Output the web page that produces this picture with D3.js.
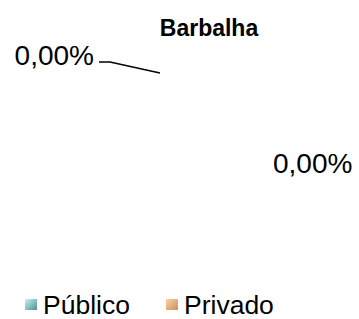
<!DOCTYPE html>
<html>
<head>
<meta charset="utf-8">
<script src="https://cdn.jsdelivr.net/npm/d3@7"></script>
<style>
  body { margin: 0; background: #fff; }
  svg { font-family: "Liberation Sans", Arial, sans-serif; }
</style>
</head>
<body>
<div class="container"></div>
<script>
// chart data
const categories = ["Público", "Privado"];
const values = [0, 0];
const title = "Barbalha";

const width = 359, height = 319;
const cx = 160, cy = 163, radius = 90;

const svg = d3.select(".container")
  .append("svg")
  .attr("width", width)
  .attr("height", height);

// gradients for the legend swatches
const defs = svg.append("defs");
const grads = [
  { id: "gPub", from: "#c8f4f4", to: "#4f8e92" },
  { id: "gPri", from: "#fbd2a4", to: "#c89060" }
];
grads.forEach(g => {
  const lg = defs.append("linearGradient")
    .attr("id", g.id)
    .attr("x1", "0").attr("y1", "0")
    .attr("x2", "1").attr("y2", "1");
  lg.append("stop").attr("offset", "0%").attr("stop-color", g.from);
  lg.append("stop").attr("offset", "100%").attr("stop-color", g.to);
});

svg.append("text")
  .attr("x", 209)
  .attr("y", 36)
  .attr("text-anchor", "middle")
  .style("font-weight", "bold")
  .style("font-size", "23px")
  .text(title);

const pie = d3.pie().sort(null).value(d => d);
const arcs = pie(values);
const arc = d3.arc().innerRadius(0).outerRadius(radius);

const g = svg.append("g").attr("transform", `translate(${cx},${cy})`);

g.selectAll("path.slice")
  .data(arcs)
  .enter()
  .append("path")
  .attr("class", "slice")
  .attr("d", arc)
  .attr("fill", (d, i) => "url(#" + grads[i].id + ")");

const total = d3.sum(values);
const fmt = v => (total ? v / total * 100 : 0).toFixed(2).replace(".", ",") + "%";

// first label: pulled out to the upper left with a leader line
const a0 = arcs[0];
const p0 = [radius * Math.sin(a0.startAngle), -radius * Math.cos(a0.startAngle)];
g.append("path")
  .attr("d", d3.line()([p0, [p0[0] - 50, p0[1] - 11], [p0[0] - 61, p0[1] - 11]]))
  .attr("fill", "none")
  .attr("stroke", "#000")
  .attr("stroke-width", 1.5);
g.append("text")
  .attr("x", p0[0] - 66)
  .attr("y", p0[1] - 8)
  .attr("text-anchor", "end")
  .style("font-size", "28px")
  .text(fmt(values[0]));

// second label: to the right of the pie
g.append("text")
  .attr("x", radius + 23)
  .attr("y", 10)
  .attr("text-anchor", "start")
  .style("font-size", "28px")
  .text(fmt(values[1]));

// legend
const legX = [25, 166];
const leg = svg.selectAll("g.leg")
  .data(categories)
  .enter()
  .append("g")
  .attr("class", "leg")
  .attr("transform", (d, i) => `translate(${legX[i]},299)`);
leg.append("rect")
  .attr("width", 12).attr("height", 11)
  .attr("fill", (d, i) => "url(#" + grads[i].id + ")");
leg.append("text")
  .attr("x", 18)
  .attr("y", 15)
  .style("font-size", "26.5px")
  .text(d => d);
</script>
</body>
</html>
